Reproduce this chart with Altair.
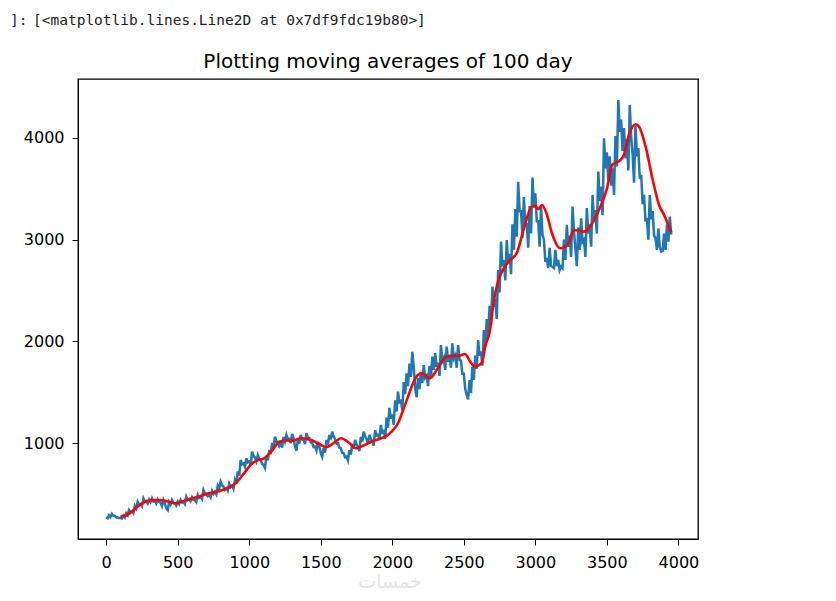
import altair as alt
import pandas as pd

# daily closing price, read every 20 trading days: upper edge of the noisy band
days = list(range(0, 3941, 20))
close_hi = [
    272, 290, 302, 285, 270, 262,
    285, 310, 341, 330, 380, 423, 400, 456, 430, 445,
    456, 430, 446, 415, 440, 358, 420, 440, 405, 423,
    440, 420, 472, 450, 466, 440, 490, 470, 538, 500,
    489, 530, 520, 580, 620, 570, 555, 600, 580, 636,
    720, 833, 800, 850, 820, 915, 860, 880, 833, 784,
    870, 931, 1000, 1062, 1010, 997, 1060, 1079, 1040, 1090,
    964, 1040, 1079, 1030, 1098, 1050, 1000, 964, 1010, 901,
    950, 1030, 1080, 1112, 1040, 1000, 950, 901, 866, 930,
    990, 1030, 960, 1060, 1112, 1040, 1080, 1020, 1128, 1080,
    1177, 1130, 1250, 1345, 1280, 1420, 1505, 1430, 1600, 1686,
    1780, 1898, 1538, 1640, 1700, 1767, 1660, 1760, 1850, 1883,
    1790, 1964, 1840, 1948, 1870, 1981, 1860, 1964, 1810, 1680,
    1472, 1620, 1751, 1860, 2013, 1900, 2112, 2220, 2350, 2538,
    2420, 2700, 2980, 2800, 2997, 2860, 3150, 3300, 3570, 3280,
    3420, 3160, 3330, 3610, 3456, 3180, 3320, 3000, 2820, 2920,
    2732, 2900, 2800, 2735, 3000, 3145, 3040, 3325, 2915, 3120,
    3210, 3000, 3311, 3150, 3440, 3290, 3669, 3520, 3997, 3860,
    3820, 3702, 4020, 4374, 4180, 4098, 3990, 4325, 3833, 4120,
    3900, 3636, 3440, 3213, 3440, 3280, 3016, 3110, 2882, 3060, 3150, 3226,
]
# lower edge of the band, read 10 days later
close_lo = [
    260, 272, 284, 268, 262, 258,
    268, 290, 318, 310, 355, 395, 378, 425, 405, 420,
    425, 405, 418, 380, 405, 340, 395, 410, 385, 400,
    415, 400, 440, 428, 440, 420, 460, 448, 505, 478,
    465, 500, 495, 548, 585, 540, 530, 565, 550, 600,
    680, 790, 765, 810, 785, 870, 820, 840, 795, 755,
    830, 890, 955, 1015, 970, 955, 1015, 1035, 1000, 1045,
    925, 995, 1035, 990, 1050, 1005, 960, 925, 965, 865,
    905, 985, 1035, 1065, 995, 955, 905, 860, 830, 885,
    945, 985, 920, 1015, 1065, 995, 1035, 975, 1075, 1035,
    1090, 1040, 1150, 1240, 1180, 1310, 1390, 1320, 1480, 1560,
    1650, 1750, 1450, 1530, 1590, 1640, 1560, 1640, 1720, 1750,
    1660, 1810, 1720, 1800, 1740, 1830, 1740, 1820, 1680, 1530,
    1430, 1490, 1620, 1730, 1860, 1760, 1950, 2050, 2160, 2340,
    2220, 2480, 2740, 2600, 2770, 2660, 2900, 3030, 3280, 3020,
    3130, 2920, 3060, 3320, 3180, 2930, 3050, 2780, 2720, 2740,
    2720, 2740, 2700, 2720, 2800, 2930, 2830, 3080, 2740, 2900,
    2980, 2830, 3060, 2930, 3180, 3060, 3380, 3240, 3700, 3580,
    3530, 3440, 3720, 4060, 3870, 3800, 3680, 4010, 3560, 3820,
    3600, 3350, 3180, 3000, 3200, 3040, 2900, 2930, 2890, 2900, 2980, 3050,
]

# 100-day moving average
ma_days = [100, 140, 180, 220, 274, 330, 379, 430, 484, 540, 601, 660, 718, 770,
           812, 860, 905, 963, 1022, 1060, 1104, 1163, 1209, 1260, 1303, 1361,
           1432, 1490, 1537, 1590, 1642, 1700, 1747, 1800, 1853, 1910, 1958,
           2000, 2040, 2075, 2110, 2140, 2168, 2204, 2262, 2320, 2379, 2420,
           2461, 2508, 2545, 2578, 2625, 2650, 2683, 2710, 2742, 2780, 2823,
           2870, 2917, 2975, 3000, 3020, 3046, 3080, 3116, 3174, 3233, 3268,
           3300, 3338, 3373, 3420, 3455, 3502, 3537, 3595, 3619, 3654, 3701,
           3724, 3771, 3818, 3865, 3900, 3950]
ma_vals = [276, 290, 325, 375, 423, 438, 440, 425, 407, 430, 456, 480, 505, 520,
           538, 565, 604, 702, 800, 830, 850, 931, 1013, 1025, 1023, 1047,
           1030, 990, 958, 1000, 1047, 1000, 948, 975, 1013, 1040, 1069,
           1120, 1194, 1320, 1456, 1570, 1652, 1686, 1637, 1740, 1849, 1855,
           1856, 1876, 1800, 1751, 1787, 1950, 2112, 2400, 2603, 2720, 2800,
           2868, 3094, 3324, 3330, 3300, 3341, 3250, 3064, 2915, 2967, 3095,
           3090, 3079, 3112, 3220, 3325, 3508, 3735, 3784, 3833, 4030, 4135,
           4112, 3915, 3604, 3341, 3243, 3070]

x_ticks = [0, 500, 1000, 1500, 2000, 2500, 3000, 3500, 4000]
y_ticks = [1000, 2000, 3000, 4000]

title_text = "Plotting moving averages of 100 day"
out_prompt = "]:"
out_text = "[<matplotlib.lines.Line2D at 0x7df9fdc19b80>]"
watermark = "خمسات"

# interleave upper and lower edges into one daily series
rows = []
for d, hi, lo in zip(days, close_hi, close_lo):
    rows.append({"day": d, "close": hi})
    rows.append({"day": d + 10, "close": lo})
price = pd.DataFrame(rows)
ma = pd.DataFrame({"day": ma_days, "ma": ma_vals})

xscale = alt.Scale(domain=[-197, 4137], nice=False, zero=False)
yscale = alt.Scale(domain=[56, 4580], nice=False, zero=False)

common_axis = dict(
    title=None, grid=False, labelFontSize=16, labelFont="DejaVu Sans",
    tickSize=6, domainColor="black", tickColor="black", labelColor="black",
    labelFlush=False, labelOverlap=False, format="d",
)
xaxis = alt.Axis(values=x_ticks, labelPadding=9, **common_axis)
yaxis = alt.Axis(values=y_ticks, labelPadding=8, **common_axis)

blue = alt.Chart(price).mark_line(color="#1f77b4", strokeWidth=2.5).encode(
    x=alt.X("day:Q", scale=xscale, axis=xaxis),
    y=alt.Y("close:Q", scale=yscale, axis=yaxis),
)
red = alt.Chart(ma).mark_line(color="red", strokeWidth=2.6, interpolate="monotone").encode(
    x=alt.X("day:Q", scale=xscale),
    y=alt.Y("ma:Q", scale=yscale),
)

title = alt.Chart(pd.DataFrame({"t": [title_text]})).mark_text(
    font="DejaVu Sans", fontSize=20, color="black", align="center", baseline="alphabetic"
).encode(text="t:N", x=alt.value(310), y=alt.value(-11))

prompt = alt.Chart(pd.DataFrame({"t": [out_prompt]})).mark_text(
    font="DejaVu Sans Mono", fontSize=14.5, color="#222222", align="left", baseline="alphabetic"
).encode(text="t:N", x=alt.value(-68), y=alt.value(-54))

outtxt = alt.Chart(pd.DataFrame({"t": [out_text]})).mark_text(
    font="DejaVu Sans Mono", fontSize=14.5, color="#222222", align="left", baseline="alphabetic"
).encode(text="t:N", x=alt.value(-45), y=alt.value(-54))

wm = alt.Chart(pd.DataFrame({"t": [watermark]})).mark_text(
    font="DejaVu Sans", fontSize=19, color="#e4e4e4", align="center", baseline="alphabetic"
).encode(text="t:N", x=alt.value(312), y=alt.value(509))

chart = alt.layer(blue, red, title, prompt, outtxt, wm).properties(
    width=620, height=460,
    padding={"left": 70, "top": 71, "right": 120, "bottom": 52},
    autosize=alt.AutoSizeParams(type="none"),
    background="white",
).configure_view(stroke="#000000", strokeWidth=1.3)

chart.save("out.html", embed_options={"renderer": "svg", "actions": False})
